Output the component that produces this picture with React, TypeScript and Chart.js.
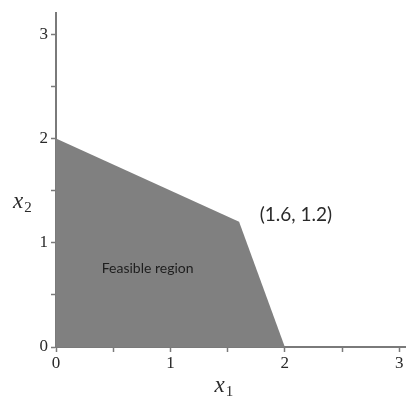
import React, { useEffect, useRef } from "react";
import { Chart, registerables } from "chart.js";
Chart.register(...registerables);

// Feasible region boundary (upper edge), filled down to x2 = 0
const boundaryX1 = [0, 1.6, 2];
const boundaryX2 = [2, 1.2, 0];
const xMin = 0;
const xMax = 3.05;
const yMin = 0;
const yMax = 3.2;
const xTickValues = [0, 0.5, 1, 1.5, 2, 2.5, 3];
const yTickValues = [0, 0.5, 1, 1.5, 2, 2.5, 3];
const majorTicks = [0, 1, 2, 3];
const vertexLabel = "(1.6, 1.2)";
const vertexLabelPos = [1.78, 1.27];
const regionLabel = "Feasible region";
const regionLabelPos = [0.4, 0.75];
const xTitle = ["x", "1"];
const yTitle = ["x", "2"];

const AXIS = "#7a7a7a";
const FILL = "#808080";
const TEXT = "#2a2a2a";

export default function App() {
  const ref = useRef<HTMLCanvasElement | null>(null);
  useEffect(() => {
    document.body.style.margin = "0";
    const labelsPlugin = {
      id: "labels",
      afterDatasetsDraw(chart: any) {
        const { ctx, scales } = chart;
        const xs = scales.x, ys = scales.y;
        ctx.save();
        ctx.fillStyle = TEXT;
        ctx.textBaseline = "middle";
        ctx.textAlign = "left";
        ctx.font = "19px Lato";
        ctx.fillText(vertexLabel, xs.getPixelForValue(vertexLabelPos[0]), ys.getPixelForValue(vertexLabelPos[1]));
        ctx.font = "14px Lato";
        ctx.fillStyle = "#1e1e1e";
        ctx.fillText(regionLabel, xs.getPixelForValue(regionLabelPos[0]), ys.getPixelForValue(regionLabelPos[1]));
        // axis titles
        const drawTitle = (parts: string[], x: number, y: number) => {
          ctx.fillStyle = TEXT;
          ctx.textAlign = "left";
          ctx.textBaseline = "alphabetic";
          ctx.font = "italic 23px 'Liberation Serif'";
          ctx.fillText(parts[0], x, y);
          const w = ctx.measureText(parts[0]).width;
          ctx.font = "15px 'Liberation Serif'";
          ctx.fillText(parts[1], x + w + 1, y + 4);
        };
        const ca = chart.chartArea;
        drawTitle(xTitle, (ca.left + ca.right) / 2 - 16, ca.bottom + 45);
        drawTitle(yTitle, 13, 208);
        ctx.restore();
      },
    };
    const label = (v: any) => (majorTicks.includes(Number(v)) ? String(v) : "");
    const chart = new Chart(ref.current!, {
      type: "line",
      data: {
        datasets: [
          {
            data: boundaryX1.map((x, i) => ({ x, y: boundaryX2[i] })),
            fill: "origin",
            backgroundColor: FILL,
            borderWidth: 0,
            borderColor: FILL,
            pointRadius: 0,
            tension: 0,
          },
        ],
      },
      options: {
        animation: false,
        responsive: true,
        maintainAspectRatio: false,
        layout: { padding: { top: 8, right: 2, left: 0, bottom: 0 } },
        plugins: { legend: { display: false }, tooltip: { enabled: false } },
        scales: {
          x: {
            type: "linear",
            min: xMin,
            max: xMax,
            afterBuildTicks: (s: any) => { s.ticks = xTickValues.map((value) => ({ value })); },
            afterFit: (s: any) => { s.height = 51; },
            border: { display: true, color: AXIS, width: 2 },
            grid: {
              drawOnChartArea: false,
              drawTicks: true,
              tickLength: 5,
              tickColor: AXIS,
              tickWidth: 1.5,
            },
            ticks: {
              autoSkip: false,
              maxRotation: 0,
              padding: 1,
              color: TEXT,
              font: { family: "'Liberation Serif'", size: 17 },
              callback: label,
            },
          },
          y: {
            type: "linear",
            min: yMin,
            max: yMax,
            afterBuildTicks: (s: any) => { s.ticks = yTickValues.map((value) => ({ value })); },
            afterFit: (s: any) => { s.width = 56; },
            border: { display: true, color: AXIS, width: 2 },
            grid: {
              drawOnChartArea: false,
              drawTicks: true,
              tickLength: 5,
              tickColor: AXIS,
              tickWidth: 1.5,
            },
            ticks: {
              autoSkip: false,
              padding: 3,
              color: TEXT,
              font: { family: "'Liberation Serif'", size: 17 },
              callback: label,
            },
          },
        },
      } as any,
      plugins: [labelsPlugin],
    });
    return () => chart.destroy();
  }, []);
  return (
    <div style={{ position: "fixed", left: 0, top: 0, width: 407, height: 398, background: "#fff" }}>
      <canvas ref={ref} />
    </div>
  );
}
